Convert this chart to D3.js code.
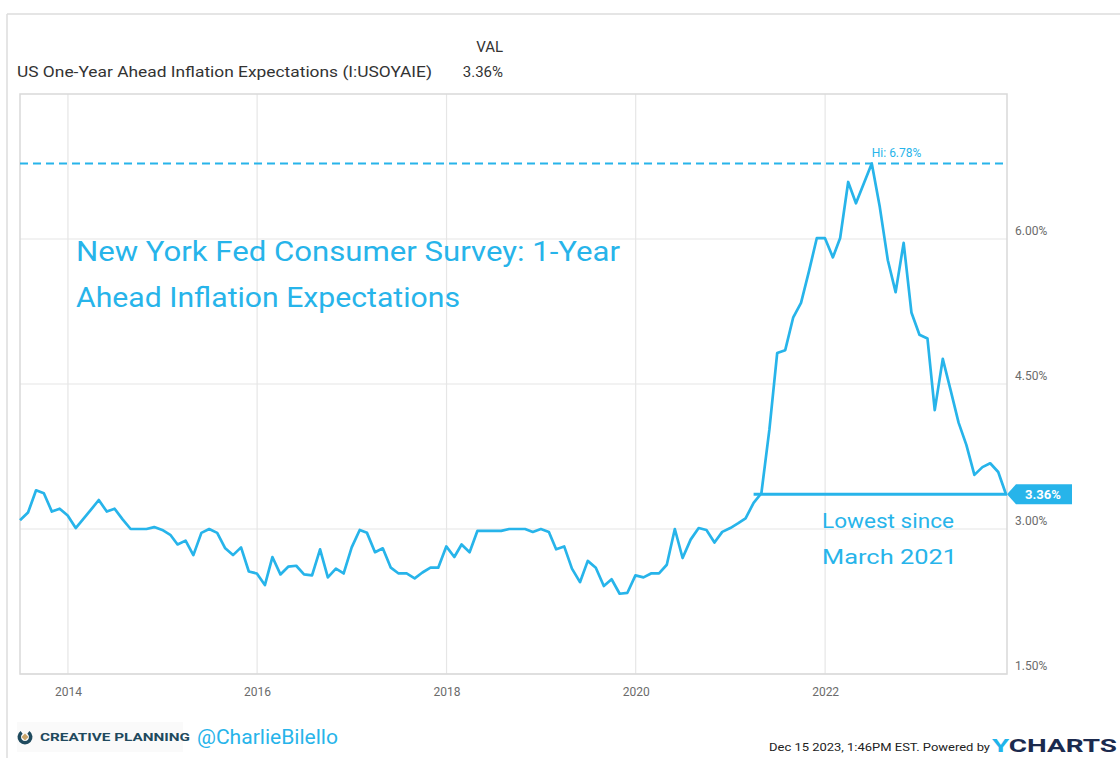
<!DOCTYPE html>
<html>
<head>
<meta charset="utf-8">
<script src="https://cdn.jsdelivr.net/npm/d3@7"></script>
<style>
  html, body { margin: 0; padding: 0; background: #fff; }
  svg { display: block; }
  text { font-family: Roboto, "Noto Sans", sans-serif; }
</style>
</head>
<body>
<svg id="chart" width="1120" height="758"></svg>
<script>
// ---------- DATA ----------
const seriesName = "US One-Year Ahead Inflation Expectations (I:USOYAIE)";
const firstMonth = "2013-06"; // monthly observations, month-end dated
const values2013 = [3.09, 3.17, 3.40, 3.37, 3.18, 3.21, 3.14];
const values2014 = [3.01, 3.10, 3.20, 3.30, 3.18, 3.21, 3.10, 3.00, 3.00, 3.00, 3.02, 2.99];
const values2015 = [2.94, 2.84, 2.88, 2.73, 2.96, 3.00, 2.96, 2.80, 2.73, 2.81, 2.56, 2.54];
const values2016 = [2.42, 2.71, 2.53, 2.61, 2.62, 2.53, 2.52, 2.79, 2.50, 2.59, 2.54, 2.81];
const values2017 = [2.99, 2.96, 2.76, 2.80, 2.60, 2.54, 2.54, 2.49, 2.55, 2.60, 2.60, 2.82];
const values2018 = [2.71, 2.84, 2.76, 2.98, 2.98, 2.98, 2.98, 3.00, 3.00, 3.00, 2.97, 3.00];
const values2019 = [2.97, 2.79, 2.82, 2.59, 2.45, 2.67, 2.60, 2.41, 2.48, 2.33, 2.34, 2.52];
const values2020 = [2.50, 2.54, 2.54, 2.63, 3.00, 2.70, 2.89, 3.01, 2.99, 2.86, 2.97, 3.01];
const values2021 = [3.06, 3.11, 3.27, 3.37, 4.03, 4.82, 4.85, 5.19, 5.34, 5.67, 6.01, 6.01];
const values2022 = [5.81, 6.01, 6.59, 6.37, 6.58, 6.78, 6.33, 5.78, 5.45, 5.96, 5.24, 5.01];
const values2023 = [4.97, 4.23, 4.76, 4.44, 4.10, 3.87, 3.56, 3.64, 3.68, 3.59, 3.36];

const yTicks = [1.5, 3.0, 4.5, 6.0];
const xTickYears = [2014, 2016, 2018, 2020, 2022];
const highValue = 6.78;
const lastValue = 3.36;
const lowestSinceMonth = "2021-03";
const titleLines = ["New York Fed Consumer Survey: 1-Year", "Ahead Inflation Expectations"];
const noteLines = ["Lowest since", "March 2021"];
const stampText = "Dec 15 2023, 1:46PM EST.  Powered by";

// ---------- BUILD ----------
const allValues = [].concat(values2013, values2014, values2015, values2016, values2017,
  values2018, values2019, values2020, values2021, values2022, values2023);
const parseMonth = d3.utcParse("%Y-%m");
const monthEnd = m => d3.utcDay.offset(d3.utcMonth.offset(m, 1), -1);
const start = parseMonth(firstMonth);
const data = allValues.map((v, i) => ({ date: monthEnd(d3.utcMonth.offset(start, i)), value: v }));

const blue = "#27b4ea";
const svg = d3.select("#chart");

// outer frame
svg.append("line").attr("x1", 7).attr("x2", 1120).attr("y1", 14).attr("y2", 14)
  .attr("stroke", "#dcdcdc").attr("stroke-width", 1.5);
svg.append("line").attr("x1", 7).attr("x2", 7).attr("y1", 14).attr("y2", 758)
  .attr("stroke", "#dcdcdc").attr("stroke-width", 1.5);

const L = 20, R = 1007, T = 94, B = 674;
const x = d3.scaleUtc().domain([data[0].date, data[data.length - 1].date]).range([L, R - 1]);
const y = d3.scaleLinear().domain([1.5, 7.5]).range([B, T]);

// gridlines
const g = svg.append("g");
g.selectAll(".hg").data(yTicks).join("line")
  .attr("x1", L).attr("x2", R).attr("y1", d => y(d)).attr("y2", d => y(d))
  .attr("stroke", "#e6e6e6").attr("stroke-width", 1.2);
const yearDates = xTickYears.map(yr => new Date(Date.UTC(yr, 0, 1)));
g.selectAll(".vg").data(yearDates).join("line")
  .attr("x1", d => x(d)).attr("x2", d => x(d)).attr("y1", T).attr("y2", B)
  .attr("stroke", "#e6e6e6").attr("stroke-width", 1.2);

// plot frame
svg.append("rect").attr("x", L).attr("y", T).attr("width", R - L).attr("height", B - T)
  .attr("fill", "none").attr("stroke", "#d9d9d9").attr("stroke-width", 1.5);

// axes (right + bottom) using d3 axis generators, restyled
const yAxis = d3.axisRight(y).tickValues(yTicks).tickFormat(d => d3.format(".2f")(d) + "%").tickSize(0).tickPadding(8);
const ya = svg.append("g").attr("transform", `translate(${R},-8)`).call(yAxis);
ya.select(".domain").remove();
ya.selectAll("text").attr("fill", "#6b6b6b").attr("font-size", 12).attr("font-family", "Roboto, sans-serif");

const xAxis = d3.axisBottom(x).tickValues(yearDates).tickFormat(d3.utcFormat("%Y")).tickSize(0).tickPadding(13);
const xa = svg.append("g").attr("transform", `translate(0,${B})`).call(xAxis);
xa.select(".domain").remove();
xa.selectAll("text").attr("fill", "#6b6b6b").attr("font-size", 12).attr("font-family", "Roboto, sans-serif");

// high dashed line
svg.append("line").attr("x1", L).attr("x2", R).attr("y1", y(highValue)).attr("y2", y(highValue))
  .attr("stroke", blue).attr("stroke-width", 2).attr("stroke-dasharray", "8,5");
const hiPoint = data.find(d => d.value === highValue);
svg.append("text").attr("x", x(hiPoint.date)).attr("y", y(highValue) - 7)
  .attr("fill", blue).attr("font-size", 12).text("Hi: " + highValue.toFixed(2) + "%");

// series line
svg.append("path").datum(data)
  .attr("fill", "none").attr("stroke", blue).attr("stroke-width", 2.7)
  .attr("stroke-linejoin", "round")
  .attr("d", d3.line().x(d => x(d.date)).y(d => y(d.value)));

// "lowest since" line
const lowStart = monthEnd(parseMonth(lowestSinceMonth));
svg.append("line").attr("x1", x(lowStart)).attr("x2", R).attr("y1", y(lastValue)).attr("y2", y(lastValue))
  .attr("stroke", blue).attr("stroke-width", 3);

// last value tag
const ty = y(lastValue);
svg.append("path")
  .attr("d", `M${R},${ty} L${R + 9},${ty - 10} L${R + 65},${ty - 10} L${R + 65},${ty + 10} L${R + 9},${ty + 10} Z`)
  .attr("fill", blue);
svg.append("text").attr("x", R + 36).attr("y", ty + 5).attr("text-anchor", "middle")
  .attr("fill", "#fff").attr("font-weight", "bold").attr("font-size", 13)
  .text(lastValue.toFixed(2) + "%");

// header
svg.append("text").attr("x", 17).attr("y", 77).attr("fill", "#333").attr("font-size", 15)
  .attr("textLength", 415).attr("lengthAdjust", "spacingAndGlyphs").text(seriesName);
svg.append("text").attr("x", 503).attr("y", 52).attr("text-anchor", "end").attr("fill", "#333").attr("font-size", 15).text("VAL");
svg.append("text").attr("x", 503).attr("y", 77).attr("text-anchor", "end").attr("fill", "#333").attr("font-size", 15)
  .text(lastValue.toFixed(2) + "%");

// handwritten-style annotations
const hand = "'Comic Sans MS', 'Segoe Print', Lato, sans-serif";
svg.append("text").attr("x", 76).attr("y", 261).attr("fill", blue).attr("font-size", 27)
  .attr("font-family", hand).attr("textLength", 544).attr("lengthAdjust", "spacingAndGlyphs").text(titleLines[0]);
svg.append("text").attr("x", 76).attr("y", 307).attr("fill", blue).attr("font-size", 27)
  .attr("font-family", hand).attr("textLength", 384).attr("lengthAdjust", "spacingAndGlyphs").text(titleLines[1]);
svg.append("text").attr("x", 822).attr("y", 528).attr("fill", blue).attr("font-size", 21)
  .attr("font-family", hand).attr("textLength", 132).attr("lengthAdjust", "spacingAndGlyphs").text(noteLines[0]);
svg.append("text").attr("x", 822).attr("y", 564).attr("fill", blue).attr("font-size", 21)
  .attr("font-family", hand).attr("textLength", 135).attr("lengthAdjust", "spacingAndGlyphs").text(noteLines[1]);

// footer: logo
svg.append("rect").attr("x", 17).attr("y", 722).attr("width", 166).attr("height", 30).attr("fill", "#fafafa");
svg.append("path").attr("d", d3.arc()({ innerRadius: 4, outerRadius: 7.5, startAngle: Math.PI * 0.2, endAngle: Math.PI * 1.8 }))
  .attr("transform", "translate(25,737)").attr("fill", "#1f4a5e");
svg.append("path").attr("d", "M25,733.5 L28.5,737 L25,740.5 L21.5,737 Z").attr("fill", "#c8a46a");
svg.append("text").attr("x", 40).attr("y", 741).attr("fill", "#1f4a5e").attr("font-size", 11).attr("font-weight", "bold")
  .attr("textLength", 150).attr("lengthAdjust", "spacingAndGlyphs").text("CREATIVE PLANNING");
svg.append("text").attr("x", 197).attr("y", 744).attr("fill", blue).attr("font-size", 20)
  .attr("font-family", hand).attr("textLength", 141).attr("lengthAdjust", "spacingAndGlyphs").text("@CharlieBilello");

// footer: stamp
svg.append("text").attr("x", 990).attr("y", 751).attr("text-anchor", "end").attr("fill", "#222").attr("font-size", 11.5)
  .attr("textLength", 221).attr("lengthAdjust", "spacingAndGlyphs").text(stampText);
const yc = svg.append("text").attr("x", 992).attr("y", 752).attr("font-size", 19).attr("font-weight", "bold")
  .attr("textLength", 125).attr("lengthAdjust", "spacingAndGlyphs").attr("font-family", "'Open Sans', Roboto, sans-serif");
yc.append("tspan").attr("fill", "#1fb4ea").text("Y");
yc.append("tspan").attr("fill", "#1b2a4e").text("CHARTS");
</script>
</body>
</html>
